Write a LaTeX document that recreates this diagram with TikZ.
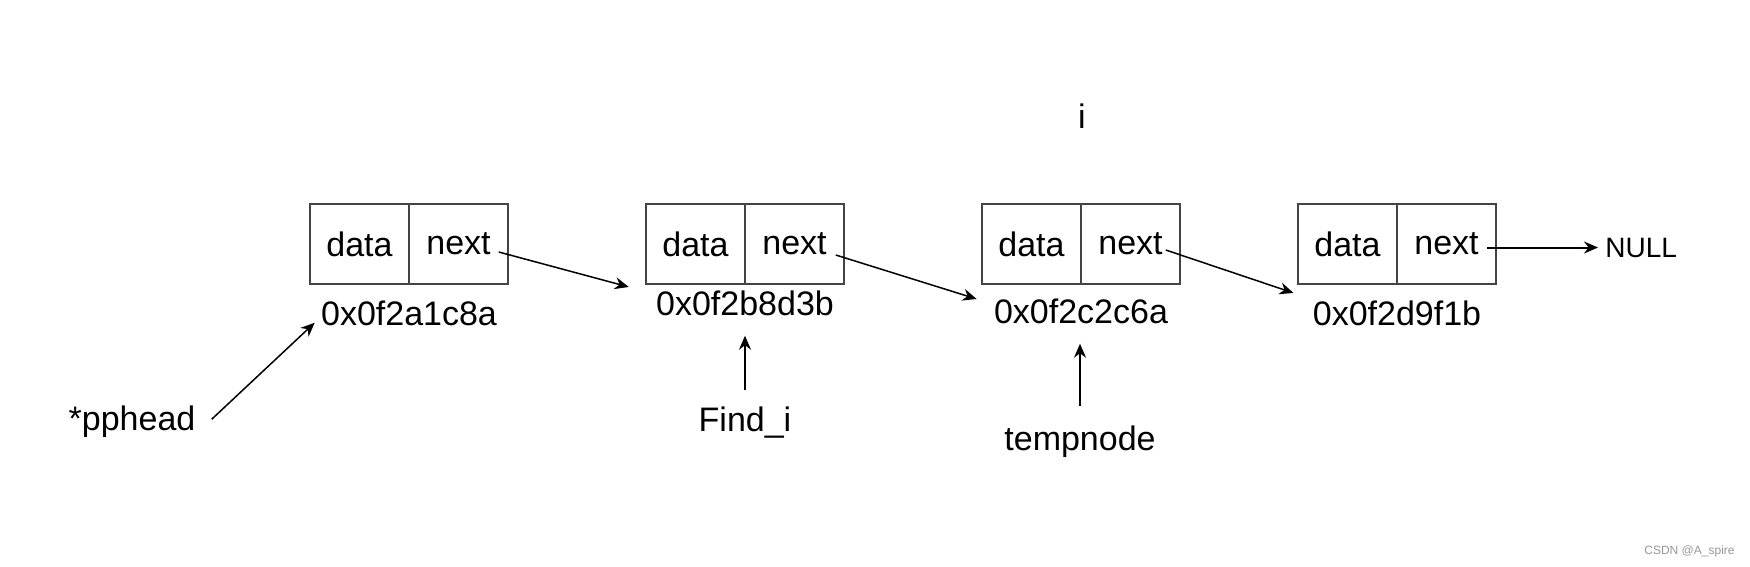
\documentclass[tikz,border=0pt]{standalone}
\usepackage{fontspec}
\setmainfont{Liberation Sans}
\usetikzlibrary{arrows.meta,calc}
\definecolor{boxgray}{RGB}{68,68,68}
\definecolor{wmgray}{RGB}{150,150,150}
\begin{document}
\begin{tikzpicture}[x = 0.5pt, y = -0.5pt,
  cell/.style = {draw = boxgray, line width = 0.75pt, minimum width = 49.5pt, minimum height = 40pt, inner sep = 0pt, font = \fontsize{17}{20}\selectfont},
  lbl/.style = {inner sep = 0pt, font = \fontsize{17}{20}\selectfont},
  ptr/.style = {-{Stealth[length = 7pt, width = 6pt]}, line width = 0.75pt}]
\useasboundingbox (0,0) rectangle (1750,567);
\foreach \n/\x/\addr/\base in {1/409/0x0f2a1c8a/325, 2/745/0x0f2b8d3b/315, 3/1081/0x0f2c2c6a/323, 4/1397/0x0f2d9f1b/325} {
  \node[cell] (d\n) at (\x-49.5,244) {data};
  \node[cell] (n\n) at (\x+49.5,244) {next};
  \node[lbl, anchor = base] (a\n) at (\x,\base) {\addr};
}
\node[lbl, anchor = base] (i) at (1082,128) {i};
\node[lbl, anchor = base] (pphead) at (132,430) {*pphead};
\node[lbl, anchor = base] (find) at (745,431) {Find\_i};
\node[lbl, anchor = base] (temp) at (1080,450) {tempnode};
\node[lbl, anchor = base west, font = \fontsize{14}{16}\selectfont] (null) at (1605,257) {NULL};
\node[lbl, anchor = base east, text = wmgray, font = \fontsize{6}{7}\selectfont] (mark) at (1735,554) {CSDN @A\_spire};
\draw[ptr] ($(n1.east)+(-10,8)$) -- ($(a2.north west)+(-27,-3)$);
\draw[ptr] ($(n2.east)+(-9,11)$) -- ($(a3.north west)+(-17,1)$);
\draw[ptr] ($(n3.east)+(-15,6)$) -- ($(a4.north west)+(-19,-7)$);
\draw[ptr, line width = 1pt, shorten >= 3.5pt] ($(null.west -| n4.east)+(-10,0)$) -- (null.west);
\draw[ptr] ($(pphead.east)+(16,-2)$) -- ($(a1.south west)+(-6,-3)$);
\draw[ptr, shorten <= 8pt, shorten >= 10pt] (find.north) -- (find.north |- a2.south);
\draw[ptr, shorten <= 9.5pt, shorten >= 10pt] (temp.north) -- (temp.north |- a3.south);
\end{tikzpicture}
\end{document}
